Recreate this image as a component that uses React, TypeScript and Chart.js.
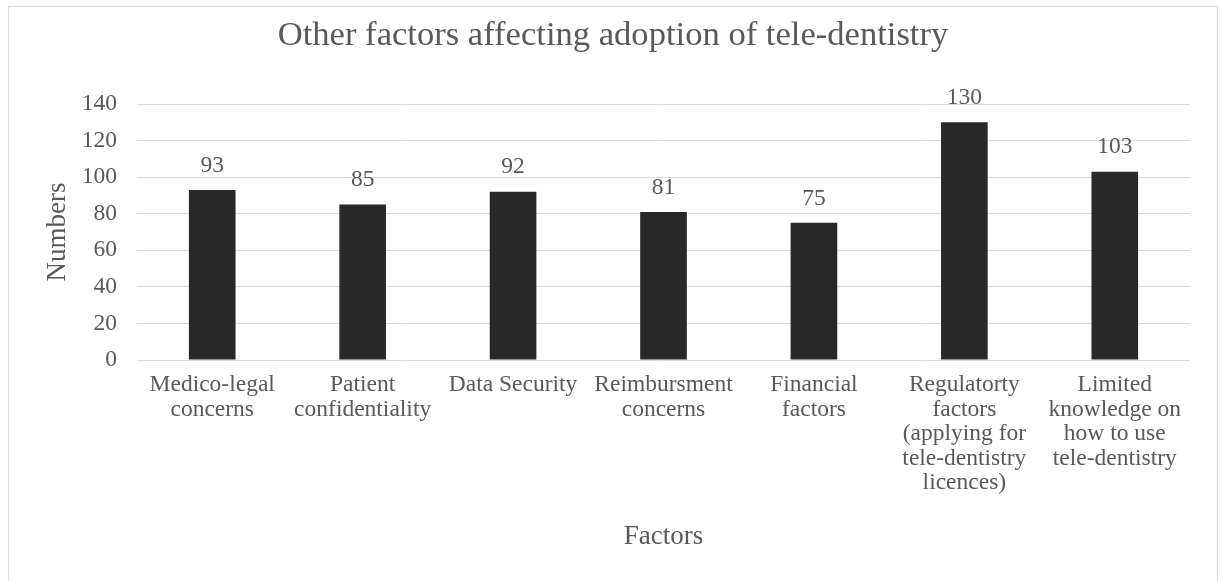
import React, { useEffect, useRef } from "react";
import { Chart, registerables } from "chart.js";

Chart.register(...registerables);

// Category labels, split into the lines they wrap onto under each bar
const categories: string[][] = [
  ["Medico-legal", "concerns"],
  ["Patient", "confidentiality"],
  ["Data Security"],
  ["Reimbursment", "concerns"],
  ["Financial", "factors"],
  ["Regulatorty", "factors", "(applying for", "tele-dentistry", "licences)"],
  ["Limited", "knowledge on", "how to use", "tele-dentistry"],
];

// Number of respondents citing each factor
const counts: number[] = [93, 85, 92, 81, 75, 130, 103];

const yMin = 0;
const yMax = 140;
const yStep = 20;

const chartTitle = "Other factors affecting adoption of tele-dentistry";
const yAxisTitle = "Numbers";
const xAxisTitle = "Factors";

const FONT = "'Liberation Serif', 'Times New Roman', serif";
const TEXT_COLOR = "#595959";
const GRID_COLOR = "#d9d9d9";
const BAR_COLOR = "#282828";

const CANVAS_W = 1208;
const CANVAS_H = 578;

// Draws the title, axis titles and value labels above each bar
const annotations = {
  id: "annotations",
  afterDatasetsDraw(chart: any) {
    const { ctx, chartArea } = chart;
    const meta = chart.getDatasetMeta(0);
    ctx.save();
    ctx.fillStyle = TEXT_COLOR;
    ctx.textAlign = "center";
    ctx.textBaseline = "middle";

    ctx.font = `23.5px ${FONT}`;
    meta.data.forEach((bar: any, i: number) => {
      ctx.fillText(String(counts[i]), bar.x, bar.y - 24.5);
    });

    ctx.font = `34.6px ${FONT}`;
    ctx.fillText(chartTitle, chart.width / 2, 28.5);

    ctx.font = `27px ${FONT}`;
    ctx.fillText(xAxisTitle, (chartArea.left + chartArea.right) / 2, 529.5);

    ctx.translate(48.5, (chartArea.top + chartArea.bottom) / 2);
    ctx.rotate(-Math.PI / 2);
    ctx.fillText(yAxisTitle, 0, 0);
    ctx.restore();
  },
};

export default function App() {
  const canvasRef = useRef<HTMLCanvasElement | null>(null);

  useEffect(() => {
    if (!canvasRef.current) return;
    const chart = new Chart(canvasRef.current, {
      type: "bar",
      data: {
        labels: categories,
        datasets: [
          {
            data: counts,
            backgroundColor: BAR_COLOR,
            borderWidth: 0,
            categoryPercentage: 1,
            barPercentage: 0.31,
          },
        ],
      },
      options: {
        animation: false,
        responsive: false,
        maintainAspectRatio: false,
        layout: { padding: { top: 97, right: 27, left: 0, bottom: 0 } },
        plugins: {
          legend: { display: false },
          title: { display: false },
          tooltip: { enabled: false },
        },
        scales: {
          x: {
            grid: { display: false, drawTicks: false },
            border: { display: false },
            ticks: {
              color: TEXT_COLOR,
              font: { family: FONT, size: 23.5, lineHeight: 1.04 },
              padding: 13,
              maxRotation: 0,
              autoSkip: false,
            },
            afterFit: (scale: any) => {
              scale.height = CANVAS_H - 353;
            },
          },
          y: {
            min: yMin,
            max: yMax,
            grid: { color: GRID_COLOR, lineWidth: 1, drawTicks: false },
            border: { display: false },
            ticks: {
              stepSize: yStep,
              color: TEXT_COLOR,
              font: { family: FONT, size: 23.5 },
              padding: 20,
            },
            afterFit: (scale: any) => {
              scale.width = 128;
            },
          },
        },
      },
      plugins: [annotations],
    });
    return () => chart.destroy();
  }, []);

  return (
    <div
      style={{
        position: "absolute",
        left: 8,
        top: 6,
        width: CANVAS_W,
        height: CANVAS_H,
        border: `1px solid ${GRID_COLOR}`,
        background: "#ffffff",
      }}
    >
      <canvas
        ref={canvasRef}
        width={CANVAS_W}
        height={CANVAS_H}
        style={{ display: "block", width: CANVAS_W, height: CANVAS_H }}
      />
    </div>
  );
}
